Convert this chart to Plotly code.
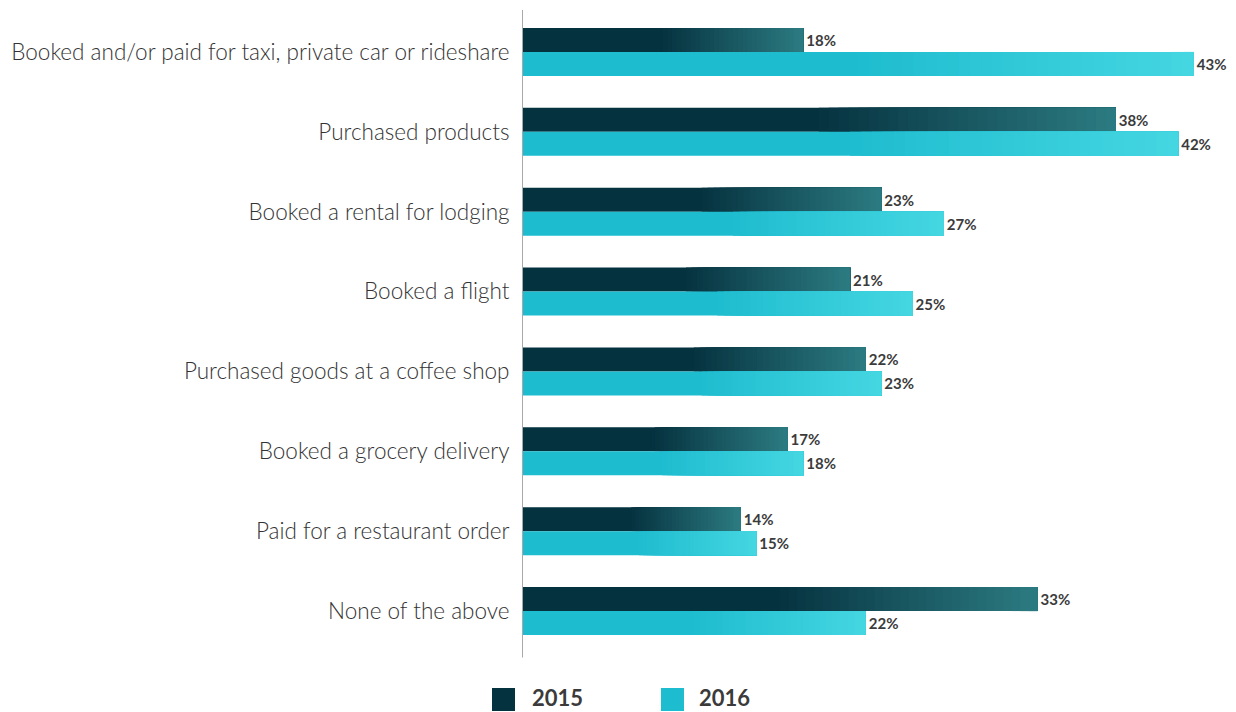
import plotly.graph_objects as go

categories = [
    "Booked and/or paid for taxi, private car or rideshare",
    "Purchased products",
    "Booked a rental for lodging",
    "Booked a flight",
    "Purchased goods at a coffee shop",
    "Booked a grocery delivery",
    "Paid for a restaurant order",
    "None of the above",
]
values_2015 = [18, 38, 23, 21, 22, 17, 14, 33]
values_2016 = [43, 42, 27, 25, 23, 18, 15, 22]
series_names = ["2015", "2016"]

# start / end colours of each series' gradient
colors = {
    "2015": ("#05323f", "#2c7a81"),
    "2016": ("#1ebccf", "#44d6e1"),
}
offsets = {"2015": -0.3, "2016": 0.0}
BAR_W = 0.3
GRAD_START = 0.5   # fraction of bar length where the shading begins
STEPS = 30

LABEL_FONT = "Lato"
TEXT_COLOR = "#3b3b3b"


def mix(c1, c2, t):
    a = [int(c1[i:i + 2], 16) for i in (1, 3, 5)]
    b = [int(c2[i:i + 2], 16) for i in (1, 3, 5)]
    return "rgb({},{},{})".format(*[round(a[k] + (b[k] - a[k]) * t) for k in range(3)])


fig = go.Figure()

for name, vals in zip(series_names, [values_2015, values_2016]):
    c0, c1 = colors[name]
    # full-length bar in the base colour, carrying the value label
    fig.add_trace(go.Bar(
        name=name, y=categories, x=vals, orientation="h",
        marker=dict(color=c0, line=dict(width=0)),
        width=BAR_W, offset=offsets[name],
        text=[f"{v}%" for v in vals], textposition="outside",
        textfont=dict(family=LABEL_FONT, size=15, color=TEXT_COLOR, weight="bold"),
        cliponaxis=False, showlegend=False,
    ))
    # shading: each layer runs from its start to the bar end, lighter layers on top
    for k in range(STEPS):
        f0 = GRAD_START + (1 - GRAD_START) * k / STEPS
        fig.add_trace(go.Bar(
            y=categories, x=[v * (1 - f0) for v in vals],
            base=[v * f0 for v in vals], orientation="h",
            marker=dict(color=mix(c0, c1, (k + 1) / STEPS), line=dict(width=0)),
            width=BAR_W, offset=offsets[name],
            showlegend=False, hoverinfo="skip",
        ))

fig.update_layout(
    width=1236, height=712,
    barmode="overlay",
    plot_bgcolor="white", paper_bgcolor="white",
    margin=dict(l=522, r=0, t=12, b=61),
    showlegend=False,
    xaxis=dict(range=[0, 45.7], visible=False, fixedrange=True),
    yaxis=dict(
        autorange="reversed", showgrid=False, zeroline=False, showline=False,
        ticks="outside", ticklen=7, tickcolor="rgba(0,0,0,0)",
        tickfont=dict(family=LABEL_FONT, size=22.5, color="#333333", weight=300),
    ),
    shapes=[
        dict(type="line", xref="x", yref="paper", x0=0, x1=0, y0=-0.01, y1=1.003,
             line=dict(color="#a9a9a9", width=2)),
        dict(type="rect", xref="paper", yref="paper", x0=-0.042, x1=-0.0098,
             y0=-0.0939, y1=-0.0579, line=dict(width=0), fillcolor=colors["2015"][0]),
        dict(type="rect", xref="paper", yref="paper", x0=0.1947, x1=0.2269,
             y0=-0.0939, y1=-0.0579, line=dict(width=0), fillcolor=colors["2016"][0]),
    ],
    annotations=[
        dict(text="2015", xref="paper", yref="paper", x=0.0112, y=-0.0728,
             xanchor="left", yanchor="middle", showarrow=False,
             font=dict(family=LABEL_FONT, size=22, color=TEXT_COLOR, weight="bold")),
        dict(text="2016", xref="paper", yref="paper", x=0.2451, y=-0.0728,
             xanchor="left", yanchor="middle", showarrow=False,
             font=dict(family=LABEL_FONT, size=22, color=TEXT_COLOR, weight="bold")),
    ],
)

fig.write_html("out.html")
